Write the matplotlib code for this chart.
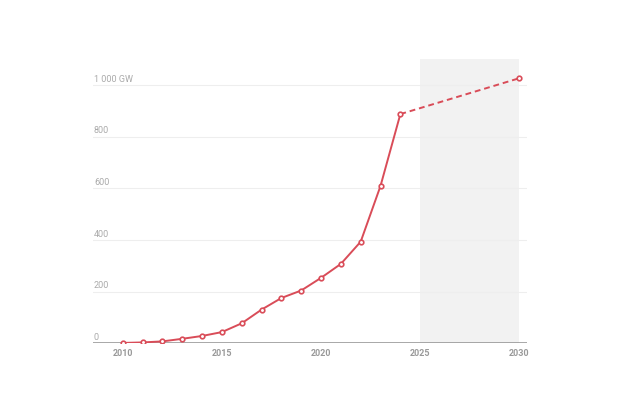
import matplotlib.pyplot as plt
import numpy as np

plt.rcParams['font.family'] = ['Roboto', 'DejaVu Sans']

years = [2010, 2011, 2012, 2013, 2014, 2015, 2016, 2017, 2018, 2019,
         2020, 2021, 2022, 2023, 2024]
capacity = [1, 3, 7, 17, 28, 43, 77, 130, 175, 204, 253, 307, 393, 609, 887]
proj_years = [2024, 2030]
proj_capacity = [887, 1026]

y_ticks = [0, 200, 400, 600, 800, 1000]
y_labels = ['0', '200', '400', '600', '800', '1 000 GW']
x_ticks = [2010, 2015, 2020, 2025, 2030]

red = '#d94c58'
grey_txt = '#aaaaaa'

fig = plt.figure(figsize=(6.24, 4.16), dpi=100)
ax = fig.add_axes([0.149, 0.175, 0.696, 0.683])

ax.axvspan(2025, 2030, color='#f2f2f2', zorder=0, lw=0)
for v in y_ticks[1:]:
    ax.axhline(v, color='#eeeeee', lw=0.8, zorder=1)
ax.axhline(0, color='#999999', lw=1.2, zorder=2)

ax.plot(proj_years, proj_capacity, color=red, lw=1.4, ls=(0, (3, 2)), zorder=3)
ax.plot(proj_years[1:], proj_capacity[1:], 'o', ms=3.3, mfc='white',
        mec=red, mew=1.2, zorder=4)
ax.plot(years, capacity, color=red, lw=1.4, marker='o', ms=3.3, mfc='white',
        mec=red, mew=1.2, zorder=4)

ax.set_xlim(2008.5, 2030.4)
ax.set_ylim(0, 1100)
for s in ax.spines.values():
    s.set_visible(False)
ax.set_yticks([])
ax.set_xticks(x_ticks)
ax.set_xticklabels([str(x) for x in x_ticks], fontsize=6.5, color='#999999',
                   fontweight='bold')
ax.tick_params(axis='x', length=0, pad=4)

for v, lab in zip(y_ticks, y_labels):
    ax.text(2008.55, v + 5, lab, fontsize=6.5, color=grey_txt,
            ha='left', va='bottom')

fig.savefig('out.png', dpi=100)
